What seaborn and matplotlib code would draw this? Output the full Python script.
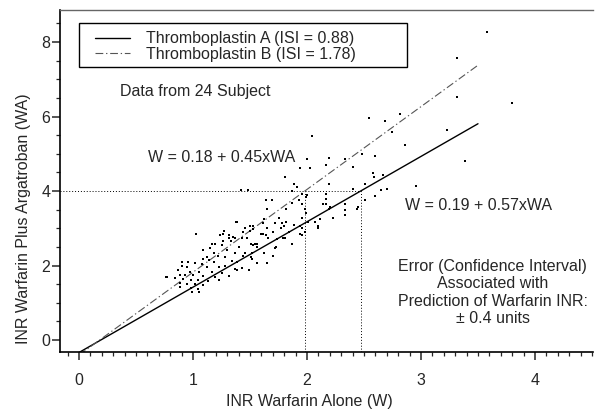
import matplotlib
matplotlib.use("Agg")
import matplotlib.pyplot as plt
import seaborn as sns
import numpy as np
import pandas as pd
from matplotlib.ticker import MultipleLocator
from matplotlib.patches import Rectangle
from matplotlib.lines import Line2D

# ---------------- data ----------------
inr_warfarin_alone = [
    3.58, 3.32, 3.32, 3.23, 3.39, 3.80, 2.68, 2.82, 2.75, 2.86, 2.67, 2.54,
    2.48, 2.60, 2.04, 2.00, 2.17, 2.19, 2.33, 2.40, 2.03, 1.94, 2.58, 2.59,
    2.19, 2.51, 2.96, 2.70, 2.60, 2.17, 2.17, 2.65, 2.40, 2.00, 1.99, 2.17,
    2.51, 1.96, 1.98, 1.99, 2.19, 2.33, 2.44, 2.33, 2.11, 2.23, 1.96, 2.10,
    1.94, 2.14, 2.33, 2.45, 2.01,
    1.81, 1.89, 1.91, 1.42, 1.48, 1.87, 1.96, 1.93, 1.87, 1.82, 1.75, 1.65,
    1.62, 1.78, 1.72, 1.65, 1.53, 1.50, 1.44, 1.39, 1.61, 1.70, 1.98, 2.07,
    2.10, 1.32, 1.37, 1.26, 1.43, 1.81, 1.69, 1.64, 1.27,
    1.03, 1.24, 1.38, 1.46, 1.50, 1.32, 1.35, 1.26, 1.33, 1.47, 1.19, 1.25,
    1.40, 1.51, 1.56, 1.09, 1.15, 1.30, 1.37, 1.46, 1.18, 1.22, 1.12, 1.28,
    1.44, 1.51, 1.09, 1.14, 1.18, 1.34, 1.39, 1.56, 0.90, 0.96, 1.02, 1.08,
    0.90, 0.95, 1.12, 1.23, 1.28, 1.37, 1.43, 1.49, 0.87, 0.97, 1.05, 1.17,
    1.25, 0.89, 0.93, 1.00, 1.09, 1.19, 1.32, 0.77, 0.84, 0.91, 0.98, 1.04,
    1.13, 1.23, 0.89, 0.95, 1.02, 1.09, 0.89, 0.98, 1.04, 0.99, 1.05, 1.39,
    1.56, 0.76,
    1.53, 1.61, 1.82, 1.77, 1.80, 1.89, 1.96, 1.53, 1.60, 1.64, 1.84, 1.94,
    1.96, 1.66, 1.79, 1.74, 1.87, 1.54, 1.53, 1.73, 1.62, 1.52, 1.52, 1.70,
    1.65, 1.72, 2.20, 1.17,
]
inr_warfarin_plus_argatroban = [
    8.26, 7.57, 6.52, 5.64, 4.81, 6.37, 5.88, 6.07, 5.59, 5.24, 4.44, 5.96,
    5.00, 4.95, 5.48, 4.87, 4.71, 4.89, 4.87, 4.65, 4.63, 4.63, 4.49, 4.39,
    4.20, 4.20, 4.14, 4.06, 3.88, 3.93, 3.80, 4.04, 4.06, 3.90, 3.83, 3.66,
    3.77, 3.66, 3.53, 3.40, 3.53, 3.50, 3.53, 3.37, 3.24, 3.29, 3.29, 3.05,
    3.05, 3.66, 3.64, 3.56, 3.16,
    4.39, 4.20, 4.12, 4.04, 4.04, 4.01, 3.93, 3.77, 3.69, 3.53, 3.29, 3.53,
    3.26, 3.13, 3.13, 3.02, 2.99, 2.94, 2.89, 3.18, 2.86, 2.89, 2.89, 3.16,
    3.00, 2.75, 2.75, 2.86, 2.73, 2.73, 3.77, 3.77, 2.94,
    2.86, 2.83, 3.16, 3.02, 3.07, 2.81, 2.78, 2.67, 2.65, 2.73, 2.57, 2.54,
    2.51, 2.59, 2.59, 2.43, 2.46, 2.43, 2.35, 2.33, 2.33, 2.27, 2.22, 2.22,
    2.25, 2.22, 2.17, 2.14, 2.09, 2.11, 2.09, 2.06, 2.09, 2.09, 2.06, 2.03,
    1.98, 1.95, 1.95, 1.95, 1.98, 1.90, 1.93, 1.87, 1.87, 1.84, 1.82, 1.82,
    1.79, 1.76, 1.74, 1.74, 1.71, 1.68, 1.71, 1.68, 1.66, 1.63, 1.60, 1.60,
    1.58, 1.60, 1.52, 1.50, 1.50, 1.47, 1.42, 1.39, 1.36, 1.28, 1.28, 1.87,
    2.49, 1.68,
    3.07, 3.13, 3.16, 3.02, 3.05, 3.10, 3.02, 2.97, 2.84, 2.83, 2.89, 2.86,
    2.83, 2.73, 2.73, 2.70, 2.59, 2.59, 2.54, 2.49, 2.33, 2.33, 2.17, 2.27,
    2.06, 2.46, 3.56, 2.57,
]

line_labels = ["Thromboplastin A (ISI = 0.88)", "Thromboplastin B (ISI = 1.78)"]
fit_intercepts = [0.19, 0.18]   # W = a + b * WA
fit_slopes = [0.57, 0.45]
fit_w_range = [0.0, 3.5]
fit_equations = ["W = 0.19 + 0.57xWA", "W = 0.18 + 0.45xWA"]
reference_wa = 4.0

x_ticks = [0, 1, 2, 3, 4]
y_ticks = [0, 2, 4, 6, 8]

# ---------------- style ----------------
sns.set_theme(style="ticks")
plt.rcParams["font.family"] = ["Liberation Sans", "DejaVu Sans"]
FS = 11.5

fig = plt.figure(figsize=(6.03, 4.11), dpi=100)
ax = fig.add_axes([60 / 603, 1 - 352 / 411, 533 / 603, 342 / 411])

df = pd.DataFrame({"W": inr_warfarin_alone, "WA": inr_warfarin_plus_argatroban})
sns.scatterplot(data=df, x="W", y="WA", ax=ax, s=2.2, marker="s", color="black",
                linewidth=0, legend=False, zorder=3)

styles = [dict(color="black", lw=1.0, ls="-"),
          dict(color="#555555", lw=0.8, ls=(0, (7, 2.5, 1.2, 2.5)))]
w_arr = np.array(fit_w_range)
handles = []
for a, b, st, lab in zip(fit_intercepts, fit_slopes, styles, line_labels):
    wa = (w_arr - a) / b
    ax.plot(w_arr, wa, zorder=2, **st)
    handles.append(Line2D([], [], **st))

xmin, xmax = -0.167, 4.509
ymin, ymax = -0.32, 8.86
ax.set_xlim(xmin, xmax)
ax.set_ylim(ymin, ymax)

# dotted reference lines at WA = 4
w_at_ref = [a + b * reference_wa for a, b in zip(fit_intercepts, fit_slopes)]
dot = dict(color="black", lw=0.7, ls=(0, (1, 2)), zorder=1)
ax.plot([xmin, max(w_at_ref)], [reference_wa, reference_wa], **dot)
for wv in w_at_ref:
    ax.plot([wv, wv], [ymin, reference_wa], **dot)

# texts
ax.text(0.36, 6.66, "Data from 24 Subject", fontsize=FS, ha="left", va="center")
ax.text(0.605, 4.91, fit_equations[1], fontsize=FS, ha="left", va="center")
ax.text(2.86, 3.62, fit_equations[0], fontsize=FS, ha="left", va="center")
ax.text(3.63, 1.28,
        "Error (Confidence Interval)\nAssociated with\nPrediction of Warfarin INR:\n\u00b1 0.4 units",
        fontsize=FS, ha="center", va="center", multialignment="center", linespacing=1.2)

# legend box + legend
ax.add_patch(Rectangle((0.0356, 0.833), 0.6155, 0.129, transform=ax.transAxes,
                       fill=False, edgecolor="black", lw=1.0, zorder=4))
ax.legend(handles, line_labels, loc="center left", bbox_to_anchor=(0.0657, 0.893),
          frameon=False, fontsize=FS, handlelength=2.2, handletextpad=1.0,
          borderpad=0, borderaxespad=0, labelspacing=0.05)

# axes / ticks
for s in ["left", "bottom"]:
    ax.spines[s].set_linewidth(1.2)
    ax.spines[s].set_color("black")
ax.spines["top"].set_linewidth(1.0)
ax.spines["top"].set_color("#666666")
ax.spines["right"].set_visible(False)

ax.set_xticks(x_ticks)
ax.xaxis.set_minor_locator(MultipleLocator(0.1))
ax.set_yticks(y_ticks)
ax.yaxis.set_minor_locator(MultipleLocator(0.5))
ax.tick_params(axis="x", which="major", length=6, width=1.1, pad=9, labelsize=FS)
ax.tick_params(axis="x", which="minor", length=3, width=0.9)
ax.tick_params(axis="y", which="major", length=6, width=1.1, pad=1, labelsize=FS)
ax.tick_params(axis="y", which="minor", length=3, width=0.9)

ax.set_xlabel("INR Warfarin Alone (W)", fontsize=FS)
ax.set_ylabel("INR Warfarin Plus Argatroban (WA)", fontsize=FS)
ax.xaxis.set_label_coords(0.467, -0.122)
ax.yaxis.set_label_coords(-0.055, 0.389)

fig.savefig("out.png", dpi=100)
